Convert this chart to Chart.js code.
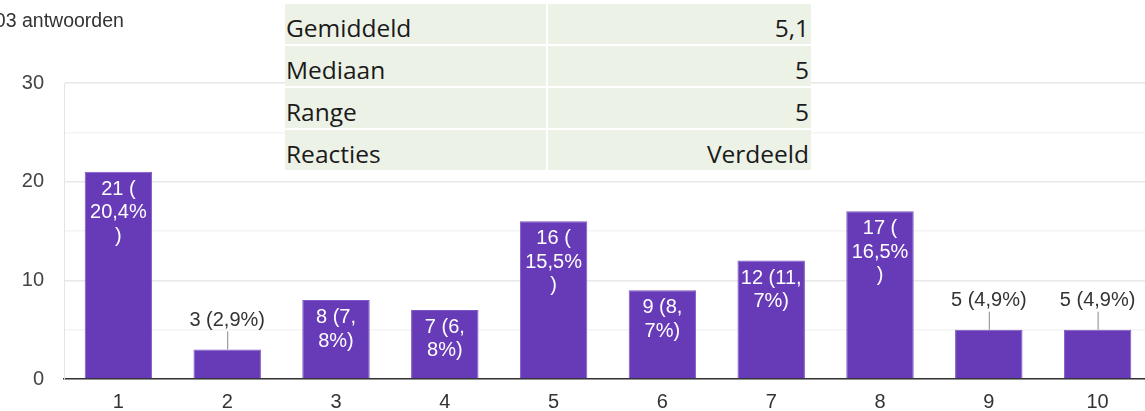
<!DOCTYPE html>
<html>
<head>
<meta charset="utf-8">
<script src="https://cdn.jsdelivr.net/npm/chart.js@4"></script>
<style>
  html, body { margin:0; padding:0; background:#fff; overflow:hidden; width:1145px; height:411px; }
  #wrap { position:absolute; left:0; top:0; width:1152px; height:411px; }
  #title { position:absolute; left:-16px; top:9px; font:19.5px "Liberation Sans", Arial, sans-serif; color:#333; white-space:nowrap; }
  #stats { position:absolute; left:285px; top:4px; width:526px; display:grid;
           grid-template-columns: 261px 263px; grid-auto-rows:40px; gap:2px; background:#fff; }
  #stats div { background:#edf2e7; font:24.5px "Open Sans", sans-serif; color:#1a1a1a; line-height:48px; height:40px; white-space:nowrap; }
  #stats .k { padding-left:1px; }
  #stats .v { text-align:right; padding-right:2px; }
</style>
</head>
<body>
<div id="wrap"><canvas id="c"></canvas></div>
<div id="title"></div>
<div id="stats"></div>
<script>
// ---- data ----
const titleText = '103 antwoorden';
const categories = ['1','2','3','4','5','6','7','8','9','10'];
const counts = [21, 3, 8, 7, 16, 9, 12, 17, 5, 5];
const barLabels = [
  ['21 (', '20,4%', ')'],
  ['3 (2,9%)'],
  ['8 (7,', '8%)'],
  ['7 (6,', '8%)'],
  ['16 (', '15,5%', ')'],
  ['9 (8,', '7%)'],
  ['12 (11,', '7%)'],
  ['17 (', '16,5%', ')'],
  ['5 (4,9%)'],
  ['5 (4,9%)']
];
const yTicks = [0, 10, 20, 30];
const statKeys = ['Gemiddeld', 'Mediaan', 'Range', 'Reacties'];
const statValues = ['5,1', '5', '5', 'Verdeeld'];

// ---- static text ----
document.getElementById('title').textContent = titleText;
const st = document.getElementById('stats');
statKeys.forEach((k, i) => {
  const a = document.createElement('div'); a.className = 'k'; a.textContent = k; st.appendChild(a);
  const b = document.createElement('div'); b.className = 'v'; b.textContent = statValues[i]; st.appendChild(b);
});

const FONT = '"Liberation Sans", Arial, sans-serif';

const labelPlugin = {
  id: 'barLabels',
  afterDatasetsDraw(chart) {
    const ctx = chart.ctx;
    const meta = chart.getDatasetMeta(0);
    ctx.save();
    ctx.font = '20px ' + FONT;
    ctx.textAlign = 'center';
    ctx.textBaseline = 'middle';
    meta.data.forEach((bar, i) => {
      const lines = barLabels[i];
      const h = bar.base - bar.y;
      const maxW = Math.max(...lines.map(l => ctx.measureText(l).width));
      const inside = maxW <= bar.width - 2 && h >= lines.length * 23.5 + 6;
      if (inside) {
        ctx.fillStyle = '#ffffff';
        lines.forEach((l, j) => ctx.fillText(l, bar.x, bar.y + 17.5 + j * 23.5));
      } else {
        ctx.strokeStyle = '#888';
        ctx.lineWidth = 1;
        ctx.beginPath();
        ctx.moveTo(bar.x + 0.5, bar.y);
        ctx.lineTo(bar.x + 0.5, bar.y - 18);
        ctx.stroke();
        ctx.fillStyle = '#333';
        ctx.fillText(lines.join(''), bar.x, bar.y - 29);
      }
    });
    ctx.restore();
  }
};

new Chart(document.getElementById('c'), {
  type: 'bar',
  data: {
    labels: categories,
    datasets: [{
      data: counts,
      backgroundColor: '#673ab7',
      borderColor: '#7e57c2',
      borderWidth: 1,
      barPercentage: 0.62,
      categoryPercentage: 1
    }]
  },
  options: {
    responsive: true,
    maintainAspectRatio: false,
    animation: false,
    layout: { padding: { top: 83, left: 0, right: 0, bottom: 0 } },
    plugins: { legend: { display: false }, tooltip: { enabled: false } },
    scales: {
      x: {
        grid: { display: false, drawTicks: false },
        border: { color: '#333', width: 1.5 },
        ticks: { color: '#333', font: { family: FONT, size: 20 }, padding: 11, maxRotation: 0 },
        afterFit(s) { s.height = 32; }
      },
      y: {
        min: 0, max: 30,
        ticks: {
          stepSize: 5,
          color: '#444',
          font: { family: FONT, size: 20 },
          padding: 20,
          callback: (v) => yTicks.includes(v) ? String(v) : ''
        },
        grid: {
          drawTicks: false,
          color: (c) => (c.tick && c.tick.value % 10 === 0) ? '#e8e8e8' : '#f4f4f4',
          lineWidth: 1.5
        },
        border: { color: '#e4e4e4', width: 1 },
        afterFit(s) { s.width = 64; }
      }
    }
  },
  plugins: [labelPlugin]
});
</script>
</body>
</html>
